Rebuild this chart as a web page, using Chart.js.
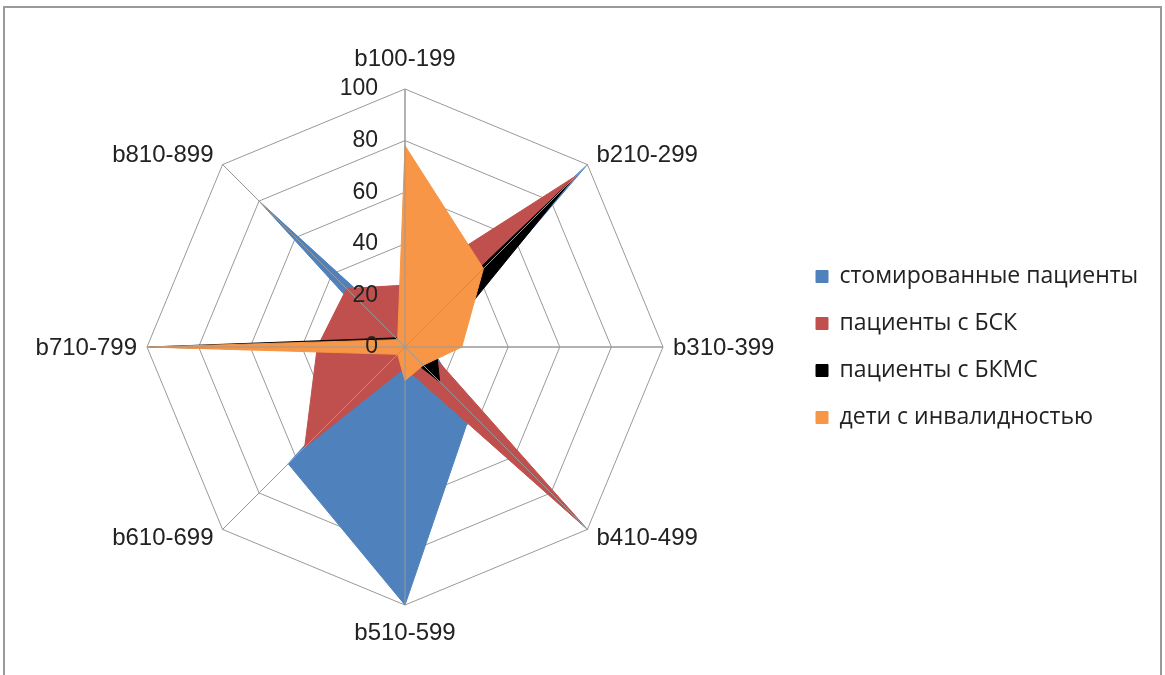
<!DOCTYPE html>
<html>
<head>
<meta charset="utf-8">
<script src="https://cdn.jsdelivr.net/npm/chart.js@4.4.0/dist/chart.umd.min.js"></script>
<style>
  html, body { margin: 0; padding: 0; background: #fff; }
  #frame { position: absolute; left: 3px; top: 6px; width: 1159px; height: 700px; border: 2px solid #9a9a9a; box-sizing: border-box; }
  #radar { position: absolute; left: 0; top: 0; }
</style>
</head>
<body>
<div id="frame"></div>
<canvas id="radar" width="1165" height="675"></canvas>
<script>
// categories and series
const categories = ["b100-199", "b210-299", "b310-399", "b410-499", "b510-599", "b610-699", "b710-799", "b810-899"];
const seriesNames = ["стомированные пациенты", "пациенты с БСК", "пациенты с БКМС", "дети с инвалидностью"];
const stomaValues = [5, 100, 10, 36, 100, 64, 5, 80];
const bskValues = [24, 94, 8, 100, 8, 55, 34, 32];
const bkmsValues = [3, 91, 12, 19, 3, 3, 99, 5];
const childValues = [78, 43, 22, 10, 13, 4, 100, 4];
const tickValues = [0, 20, 40, 60, 80, 100];
const seriesColors = ["#4F81BD", "#C0504D", "#000000", "#F79646"];

const labelFont = "24px 'Liberation Sans', Arial, sans-serif";
const tickFont = "23px 'Liberation Sans', Arial, sans-serif";
const legendFamily = "'Open Sans', sans-serif";
const legendSize = 23;

// work out right padding so the radar centre lands where it should
const measure = document.createElement("canvas").getContext("2d");
measure.font = legendSize + "px " + legendFamily;
const longest = Math.max(...seriesNames.map(s => measure.measureText(s).width));
const legendPad = 24;
const plotRight = 802;
const rightPad = Math.max(0, 1165 - plotRight - (legendPad + 12 + legendSize / 2 + longest));

// angle lines, tick labels and point labels drawn over the filled areas, Excel style
const overlay = {
  id: "overlay",
  afterDatasetsDraw(chart) {
    const r = chart.scales.r;
    const ctx = chart.ctx;
    ctx.save();
    ctx.strokeStyle = "#999";
    ctx.lineWidth = 1;
    for (let i = 0; i < categories.length; i++) {
      const p = r.getPointPosition(i, r.drawingArea);
      ctx.beginPath();
      ctx.moveTo(r.xCenter, r.yCenter);
      ctx.lineTo(p.x, p.y);
      ctx.stroke();
    }

    ctx.fillStyle = "#222";
    ctx.font = tickFont;
    ctx.textAlign = "right";
    ctx.textBaseline = "middle";
    r.ticks.forEach(t => {
      const d = r.getDistanceFromCenterForValue(t.value);
      ctx.fillText(t.label, r.xCenter - 27, r.yCenter - d);
    });

    ctx.font = labelFont;
    ctx.textBaseline = "alphabetic";
    chart.data.labels.forEach((lab, i) => {
      const p = r.getPointPosition(i, r.drawingArea);
      const ux = (p.x - r.xCenter) / r.drawingArea;
      const uy = (p.y - r.yCenter) / r.drawingArea;
      let x = p.x, y;
      if (Math.abs(ux) < 0.01) {
        ctx.textAlign = "center";
        y = uy < 0 ? p.y - 23 : p.y + 35;
      } else {
        ctx.textAlign = ux > 0 ? "left" : "right";
        x = p.x + Math.sign(ux) * (Math.abs(uy) < 0.01 ? 10 : 9);
        if (Math.abs(uy) < 0.01) y = p.y + 8;
        else y = uy < 0 ? p.y - 3 : p.y + 16;
      }
      ctx.fillText(lab, x, y);
    });
    ctx.restore();
  }
};

const seriesValues = [stomaValues, bskValues, bkmsValues, childValues];

new Chart(document.getElementById("radar").getContext("2d"), {
  type: "radar",
  data: {
    labels: categories,
    datasets: seriesValues.map((vals, i) => ({
      label: seriesNames[i],
      data: vals,
      backgroundColor: seriesColors[i],
      borderColor: seriesColors[i],
      borderWidth: 1,
      pointRadius: 0,
      fill: true,
      order: seriesValues.length - i // last series on top, like Excel
    }))
  },
  options: {
    responsive: false,
    animation: false,
    layout: { padding: { left: 18, right: rightPad, top: 89, bottom: 70 } },
    scales: {
      r: {
        min: tickValues[0],
        max: tickValues[tickValues.length - 1],
        ticks: { stepSize: 20, display: false },
        grid: { color: "#999", lineWidth: 1 },
        angleLines: { color: "#999", lineWidth: 1 },
        pointLabels: { display: false }
      }
    },
    plugins: {
      tooltip: { enabled: false },
      legend: {
        position: "right",
        align: "center",
        labels: {
          boxWidth: 12,
          boxHeight: 12,
          padding: legendPad,
          color: "#222",
          font: { family: legendFamily, size: legendSize },
          sort: (a, b) => a.datasetIndex - b.datasetIndex
        }
      }
    }
  },
  plugins: [overlay]
});
</script>
</body>
</html>
